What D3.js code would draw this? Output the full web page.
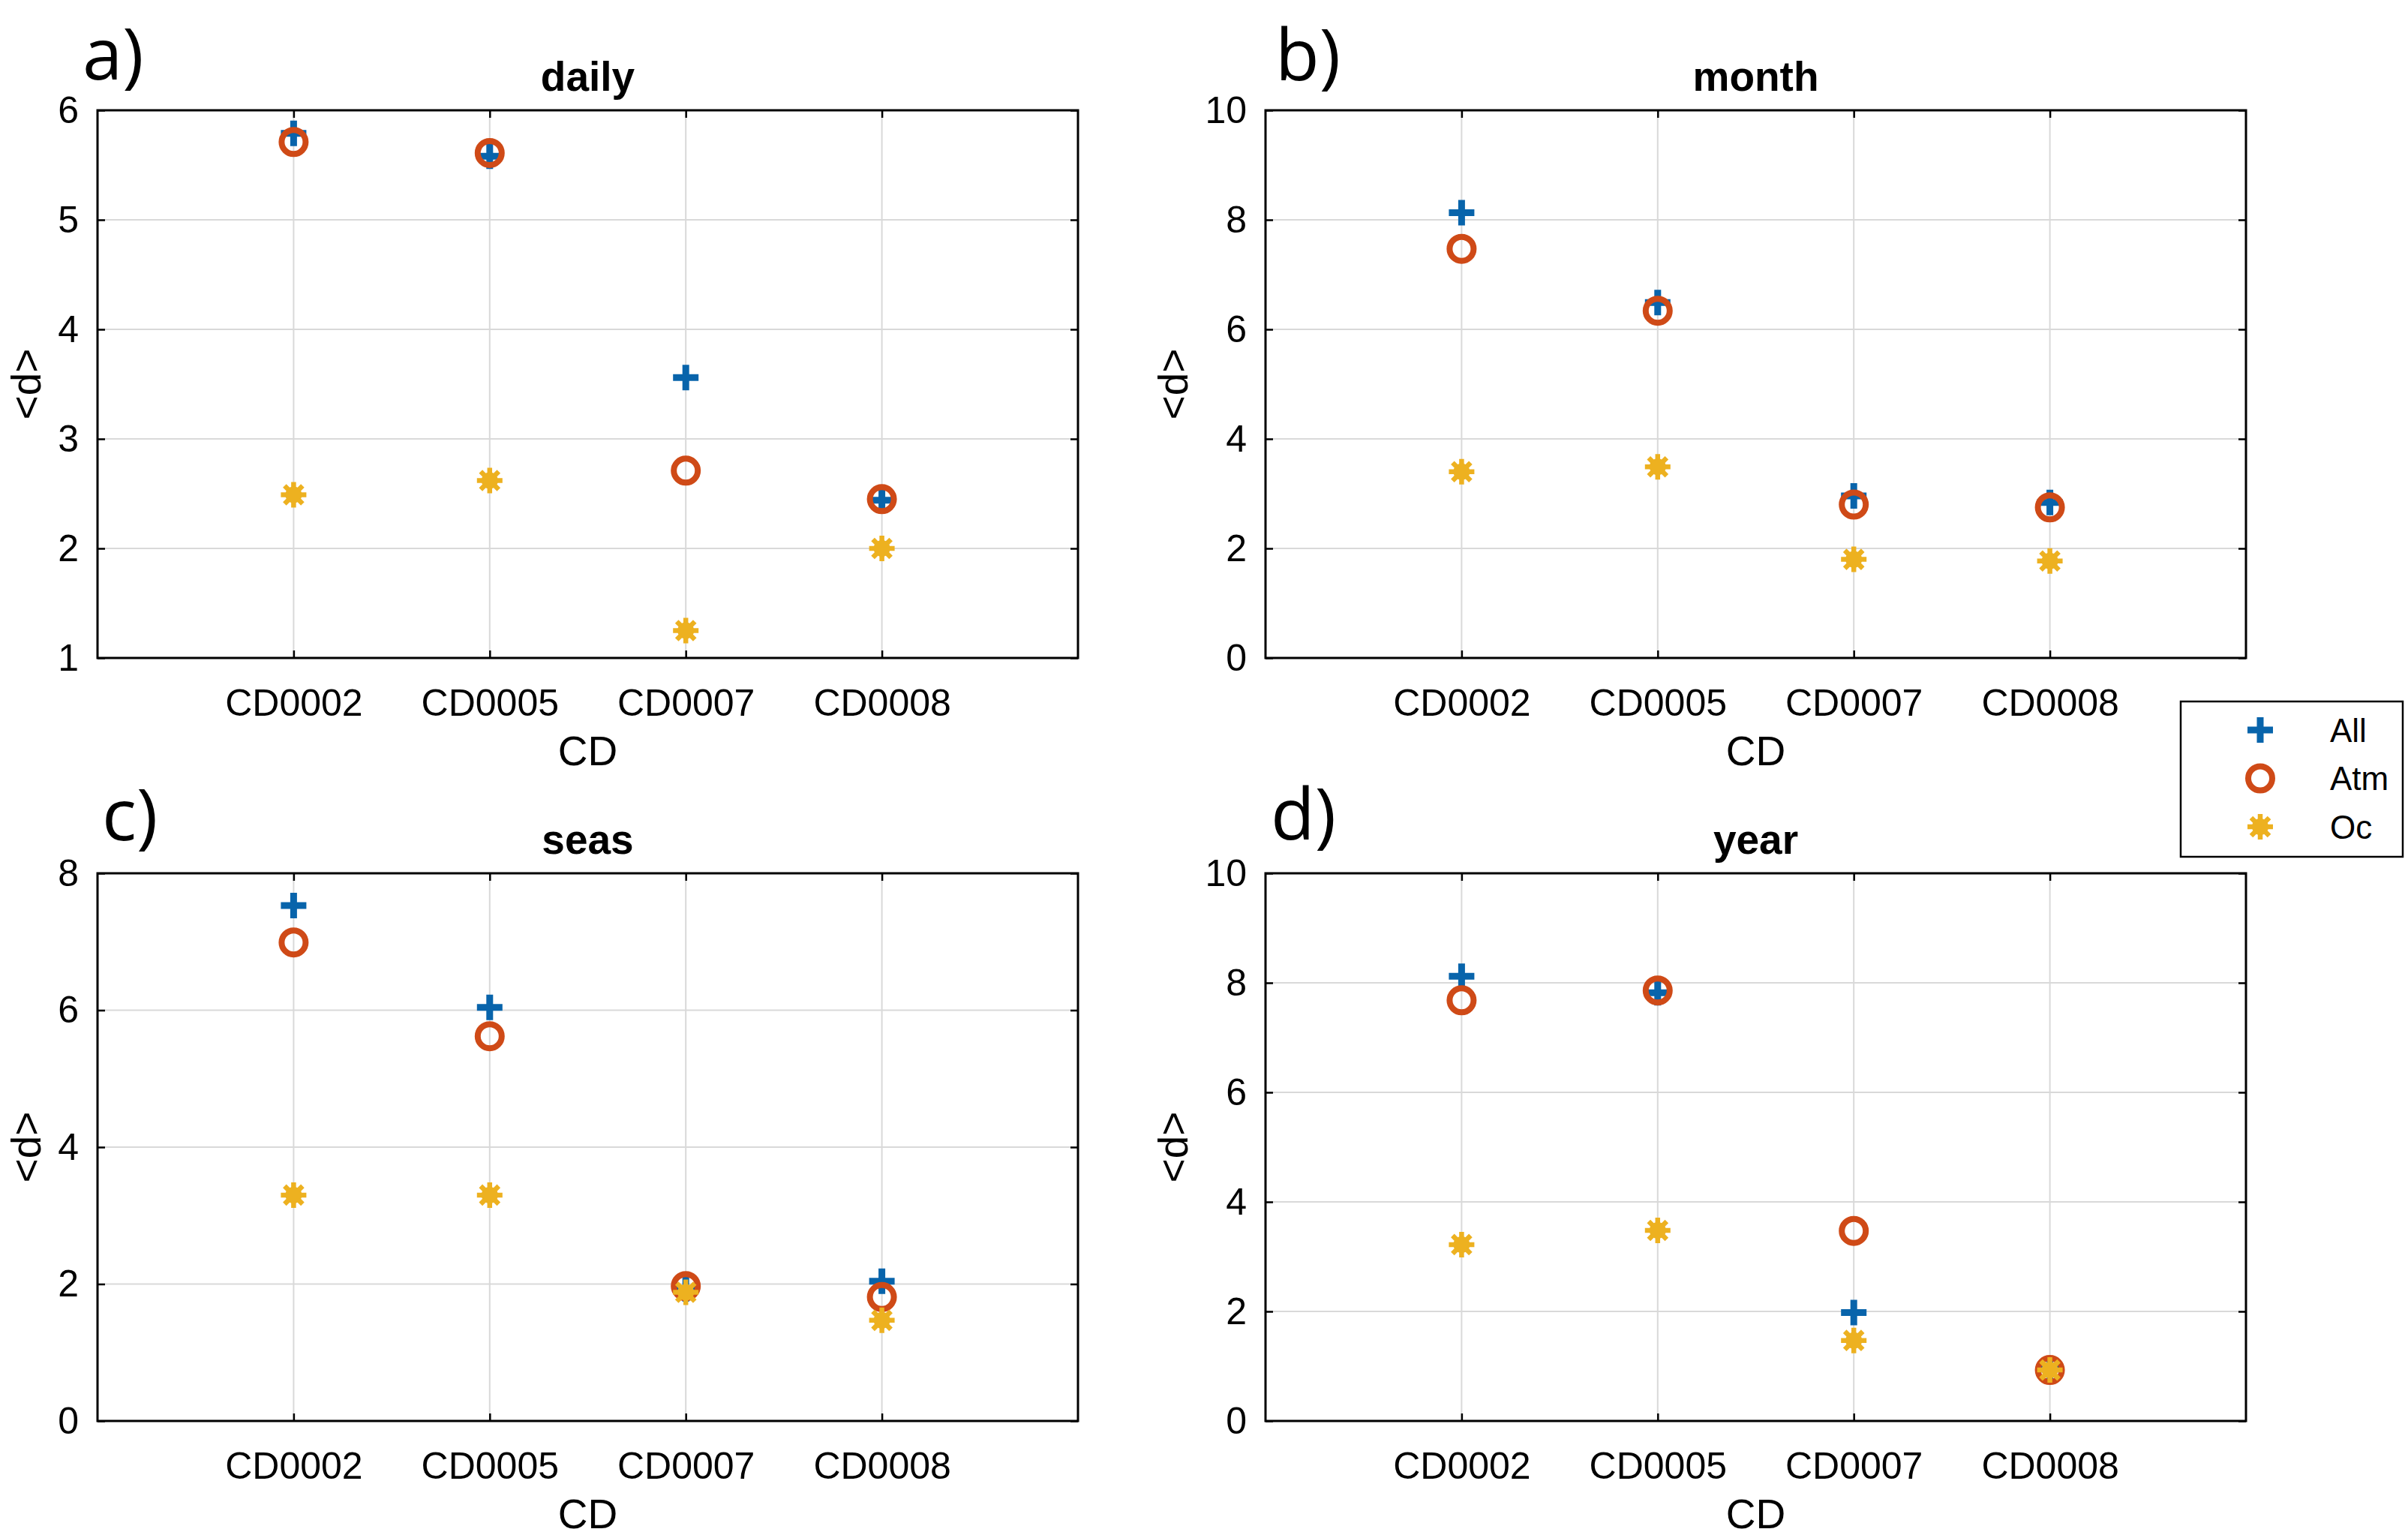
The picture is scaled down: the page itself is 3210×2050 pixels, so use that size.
<!DOCTYPE html>
<html lang="en">
<head>
  <meta charset="UTF-8" />
  <title>Mean distance by CD</title>
  <script src="https://d3js.org/d3.v7.min.js"></script>
  <style>
    body {
      margin: 0;
      background: #fff;
    }
    svg {
      display: block;
      font-family: "Liberation Sans", Arial, sans-serif;
    }
    .tick text {
      font-size: 50px;
      fill: #000;
    }
    .tick line {
      stroke: #000;
      stroke-width: 2.5;
    }
    .grid line {
      stroke: #d9d9d9;
      stroke-width: 2;
    }
    .label {
      font-size: 55px;
      fill: #000;
    }
    .title {
      font-size: 55px;
      font-weight: bold;
      fill: #000;
    }
    .letter {
      font-family: "Open Sans", sans-serif;
      font-size: 96px;
      fill: #000;
    }
    .legend text {
      font-size: 44px;
      fill: #000;
    }
  </style>
</head>
<body>

<svg width="3210" height="2050"></svg>

<script>
  const categories = ["CD0002", "CD0005", "CD0007", "CD0008"];
  const seriesNames = ["All", "Atm", "Oc"];
  const panelTitles = ["daily", "month", "seas", "year"];
  const panelLetters = ["a)", "b)", "c)", "d)"];

  // y axis limits and tick steps per panel
  const yMin = [1, 0, 0, 0];
  const yMax = [6, 10, 8, 10];
  const yStep = [1, 2, 2, 2];

  // <d> values, in category order
  const dailyAll = [5.79, 5.58, 3.56, 2.44];
  const dailyAtm = [5.71, 5.61, 2.71, 2.45];
  const dailyOc  = [2.49, 2.62, 1.25, 2.00];

  const monthAll = [8.13, 6.49, 2.96, 2.84];
  const monthAtm = [7.47, 6.34, 2.80, 2.75];
  const monthOc  = [3.40, 3.49, 1.80, 1.77];

  const seasAll = [7.53, 6.04, 1.93, 2.04];
  const seasAtm = [6.99, 5.62, 1.97, 1.81];
  const seasOc  = [3.30, 3.30, 1.88, 1.47];

  const yearAll = [8.12, 7.82, 1.98, 0.95];
  const yearAtm = [7.68, 7.86, 3.47, 0.93];
  const yearOc  = [3.22, 3.48, 1.47, 0.93];

  const panelSeries = [
    [dailyAll, dailyAtm, dailyOc],
    [monthAll, monthAtm, monthOc],
    [seasAll, seasAtm, seasOc],
    [yearAll, yearAtm, yearOc]
  ];

  const colors = { All: "#0864ab", Atm: "#cf4a17", Oc: "#edb120" };

  const svg = d3.select("svg");

  // panel geometry (px)
  const W = 1307, H = 730;
  const lefts = [130, 1687, 130, 1687];
  const tops = [147, 147, 1164, 1164];
  const letterPos = [[110, 106], [1700, 107], [136, 1120], [1694, 1119]];

  function drawMarker(g, type, cx, cy) {
    const m = g.append("g").attr("transform", `translate(${cx},${cy})`);
    if (type === "All") {
      m.append("path")
        .attr("d", "M-17,0H17M0,-17V17")
        .attr("stroke", colors.All)
        .attr("stroke-width", 9)
        .attr("fill", "none");
    } else if (type === "Atm") {
      m.append("circle")
        .attr("r", 16)
        .attr("fill", "none")
        .attr("stroke", colors.Atm)
        .attr("stroke-width", 8);
    } else {
      const r = 17, d = r * Math.SQRT1_2;
      m.append("path")
        .attr("d", `M${-r},0H${r}M0,${-r}V${r}M${-d},${-d}L${d},${d}M${-d},${d}L${d},${-d}`)
        .attr("stroke", colors.Oc)
        .attr("stroke-width", 6.5)
        .attr("fill", "none");
      m.append("circle")
        .attr("r", 11)
        .attr("fill", colors.Oc);
    }
  }

  panelTitles.forEach((title, i) => {
    const g = svg.append("g")
      .attr("transform", `translate(${lefts[i]},${tops[i]})`);

    const x = d3.scalePoint()
      .domain(categories)
      .range([0, W])
      .padding(1);

    const y = d3.scaleLinear()
      .domain([yMin[i], yMax[i]])
      .range([H, 0]);

    const yTicks = d3.range(yMin[i], yMax[i] + 0.001, yStep[i]);

    // grid
    const grid = g.append("g").attr("class", "grid");
    grid.selectAll("line.gy")
      .data(yTicks.filter(t => t !== yMin[i] && t !== yMax[i]))
      .enter().append("line")
      .attr("x1", 0).attr("x2", W)
      .attr("y1", d => y(d)).attr("y2", d => y(d));
    grid.selectAll("line.gx")
      .data(categories)
      .enter().append("line")
      .attr("x1", d => x(d)).attr("x2", d => x(d))
      .attr("y1", 0).attr("y2", H);

    // axes with inward ticks on all four sides
    g.append("g")
      .attr("transform", `translate(0,${H})`)
      .call(d3.axisBottom(x).tickSizeInner(-10).tickSizeOuter(0).tickPadding(41));
    g.append("g")
      .call(d3.axisLeft(y).tickValues(yTicks).tickFormat(d3.format("d"))
        .tickSizeInner(-10).tickSizeOuter(0).tickPadding(25));
    g.append("g")
      .call(d3.axisTop(x).tickSizeInner(-10).tickSizeOuter(0).tickFormat(""));
    g.append("g")
      .attr("transform", `translate(${W},0)`)
      .call(d3.axisRight(y).tickValues(yTicks).tickSizeInner(-10).tickSizeOuter(0).tickFormat(""));
    g.selectAll(".domain").remove();

    g.append("rect")
      .attr("width", W).attr("height", H)
      .attr("fill", "none")
      .attr("stroke", "#000")
      .attr("stroke-width", 3);

    // markers: All, then Atm, then Oc on top
    panelSeries[i].forEach((vals, s) => {
      vals.forEach((v, k) => drawMarker(g, seriesNames[s], x(categories[k]), y(v)));
    });

    // labels
    g.append("text")
      .attr("class", "title")
      .attr("x", W / 2).attr("y", -26)
      .attr("text-anchor", "middle")
      .text(title);

    g.append("text")
      .attr("class", "label")
      .attr("x", W / 2).attr("y", H + 143)
      .attr("text-anchor", "middle")
      .text("CD");

    const digits = String(yMax[i]).length;
    const yl = -95 - 28 * (digits - 1);
    g.append("text")
      .attr("class", "label")
      .attr("transform", `translate(${yl},${H / 2}) rotate(-90)`)
      .attr("text-anchor", "middle")
      .attr("dy", "0.35em")
      .text("<d>");

    svg.append("text")
      .attr("class", "letter")
      .attr("x", letterPos[i][0]).attr("y", letterPos[i][1])
      .text(panelLetters[i]);
  });

  // legend
  const legend = svg.append("g").attr("class", "legend");
  legend.append("rect")
    .attr("x", 2907).attr("y", 935)
    .attr("width", 296).attr("height", 207)
    .attr("fill", "#fff")
    .attr("stroke", "#000")
    .attr("stroke-width", 2.5);

  const rowY = d3.scalePoint().domain(seriesNames).range([973, 1102]);
  seriesNames.forEach(name => {
    drawMarker(legend, name, 3013, rowY(name));
    legend.append("text")
      .attr("x", 3106).attr("y", rowY(name))
      .attr("dy", "0.36em")
      .text(name);
  });
</script>

</body>
</html>
